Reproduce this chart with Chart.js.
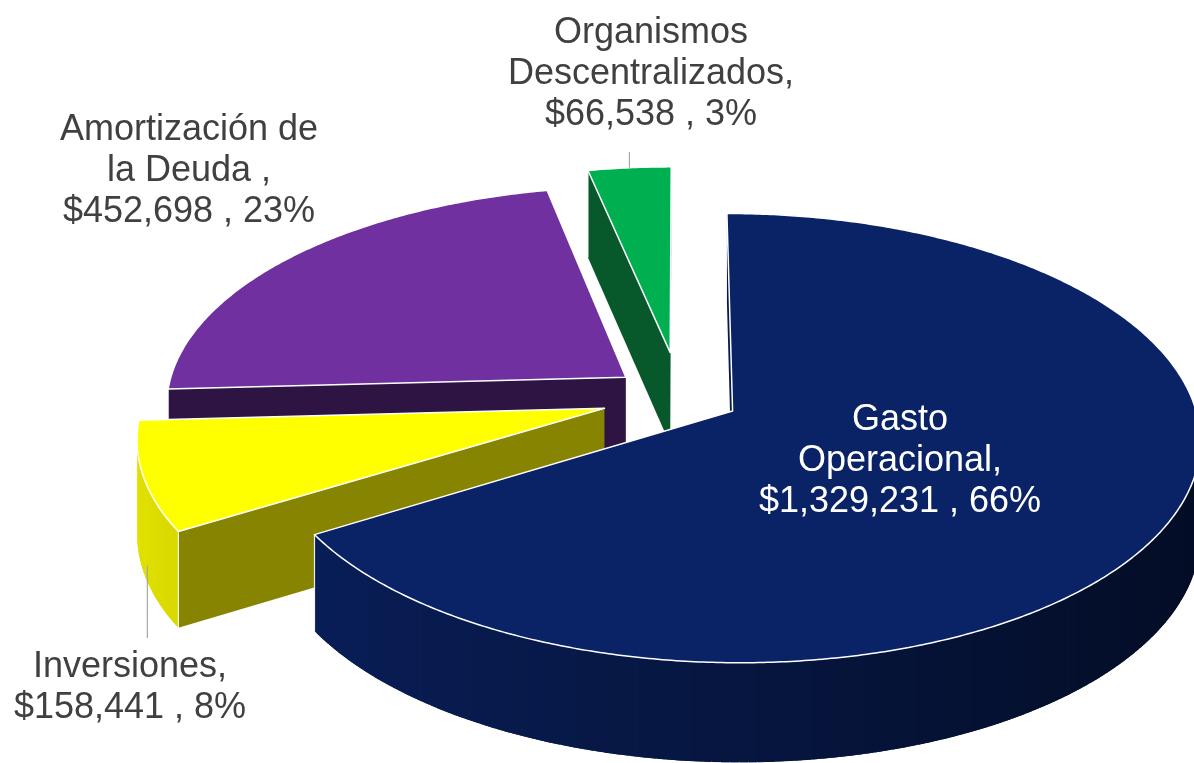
<!DOCTYPE html>
<html>
<head>
<meta charset="utf-8">
<script src="https://cdn.jsdelivr.net/npm/chart.js@4.4.1/dist/chart.umd.min.js"></script>
<style>
html,body{margin:0;padding:0;background:#ffffff;overflow:hidden}
canvas{display:block}
</style>
</head>
<body>
<canvas id="c" width="1194" height="763"></canvas>
<script>
// ---- data ----
const categories = ['Gasto Operacional', 'Inversiones', 'Amortización de la Deuda', 'Organismos Descentralizados'];
const values = [1329231, 158441, 452698, 66538];
const valueLabels = ['$1,329,231', '$158,441', '$452,698', '$66,538'];
const nameLines = [
  ['Gasto', 'Operacional,'],
  ['Inversiones,'],
  ['Amortización de', 'la Deuda ,'],
  ['Organismos', 'Descentralizados,']
];

// ---- style ----
const topColors = ['#0a2366', '#ffff00', '#7030a0', '#00b050'];
const cutColors = ['#061a4c', '#868400', '#2d1442', '#07582a'];
const explode = [0.13, 0.171, 0.150, 0.21];   // radial explosion, fraction of radius
// perspective view: centre, horizontal / vertical scale, perspective strength, wall height
const P3 = {cx: 680, cy: 397, M: 460, K: 218, q: 0.12, H: 93};
const labelStyle = [
  {x: 900, y: 430, color: '#ffffff'},
  {x: 130, y: 677, color: '#404040'},
  {x: 189, y: 140, color: '#404040'},
  {x: 651, y: 43,  color: '#404040'}
];
const LINE_H = 41;
const FONT = '36px "Liberation Sans", Arial, Helvetica, sans-serif';

const total = values.reduce((a, b) => a + b, 0);

function proj(x, y, z) {
  const w = 1 - P3.q * y;
  return {x: P3.cx + P3.M * x / w, y: P3.cy + P3.K * y / w + z * P3.H * Math.pow(w, -0.5)};
}
function geometry(chart) {
  return chart.getDatasetMeta(0).data.map((arc, i) => {
    const mid = (arc.startAngle + arc.endAngle) / 2;
    return {arc, i, a0: arc.startAngle, a1: arc.endAngle, mid,
            ex: explode[i] * Math.cos(mid), ey: explode[i] * Math.sin(mid)};
  });
}
function rim(g, a) { return [g.ex + Math.cos(a), g.ey + Math.sin(a)]; }
function outline(g) {
  const pts = [[g.ex, g.ey]];
  const n = Math.max(2, Math.ceil((g.a1 - g.a0) / (Math.PI / 360)));
  for (let k = 0; k <= n; k++) pts.push(rim(g, g.a0 + (g.a1 - g.a0) * k / n));
  return pts;
}
function shade(hex, f) {
  const n = parseInt(hex.slice(1), 16);
  const r = Math.round(((n >> 16) & 255) * f), gg = Math.round(((n >> 8) & 255) * f), b = Math.round((n & 255) * f);
  return 'rgb(' + r + ',' + gg + ',' + b + ')';
}

function drawTop(ctx, g, W) {
  const pts = outline(g).map(p => proj(p[0], p[1], 0));
  const ys = pts.map(p => p.y);
  const minY = Math.floor(Math.min(...ys)) - 2;
  const maxY = Math.ceil(Math.max(...ys)) + 2;
  const B = 2;
  const R = g.arc.outerRadius;
  for (let Y0 = minY; Y0 < maxY; Y0 += B) {
    const Yc = Y0 + B / 2;
    const u = Yc - P3.cy;
    const yc = u / (P3.K + P3.q * u);
    const wc = 1 - P3.q * yc;
    const sx = P3.M / wc, sy = P3.K / (wc * wc);
    ctx.save();
    ctx.beginPath();
    ctx.rect(0, Y0, W, B);
    ctx.clip();
    ctx.translate(P3.cx + sx * g.ex, Yc + sy * (g.ey - yc));
    ctx.scale(sx / R, sy / R);
    ctx.translate(-g.arc.x, -g.arc.y);
    g.arc.draw(ctx);
    ctx.restore();
  }
  // white rim outline
  ctx.save();
  ctx.beginPath();
  pts.forEach((p, k) => k ? ctx.lineTo(p.x, p.y) : ctx.moveTo(p.x, p.y));
  ctx.closePath();
  ctx.strokeStyle = '#ffffff';
  ctx.lineWidth = 1.5;
  ctx.lineJoin = 'round';
  ctx.stroke();
  ctx.restore();
}

const pie3d = {
  id: 'pie3d',
  beforeDatasetsDraw(chart) {
    const ctx = chart.ctx;
    const W = chart.width;
    const geo = geometry(chart);
    const cam = [0, 1 / P3.q];
    const faces = [];
    const addFace = (p1, p2, q1, q2, n, color, edges) => {
      const c = [(p1[0] + p2[0]) / 2, (p1[1] + p2[1]) / 2];
      const dx = cam[0] - c[0], dy = cam[1] - c[1];
      const dist = Math.hypot(dx, dy);
      const vis = (n[0] * dx + n[1] * dy) / dist;
      if (vis <= 0) return;
      faces.push({p1: q1 || p1, p2: q2 || p2, e1: p1, e2: p2, color, edges: vis > 0.05 ? edges : [false, false], dist});
    };
    geo.forEach(g => {
      const i = g.i;
      const v = [g.ex, g.ey];
      addFace(v, rim(g, g.a0), null, null, [Math.sin(g.a0), -Math.cos(g.a0)], cutColors[i], [false, true]);
      addFace(v, rim(g, g.a1), null, null, [-Math.sin(g.a1), Math.cos(g.a1)], cutColors[i], [false, true]);
      const n = Math.max(2, Math.ceil((g.a1 - g.a0) / (Math.PI / 180)));
      const step = (g.a1 - g.a0) / n;
      for (let k = 0; k < n; k++) {
        const a = g.a0 + step * k;
        const b = a + step;
        const am = (a + b) / 2;
        const f = 0.62 - 0.27 * Math.cos(am);
        // slightly overlapping quads avoid seams between wall strips
        const a2 = k === 0 ? a : a - step * 0.45;
        const b2 = k === n - 1 ? b : b + step * 0.45;
        addFace(rim(g, a), rim(g, b), rim(g, a2), rim(g, b2), [Math.cos(am), Math.sin(am)],
                shade(topColors[i], f), [k === 0, k === n - 1]);
      }
    });
    faces.sort((A, B) => B.dist - A.dist);
    faces.forEach(F => {
      const t1 = proj(F.p1[0], F.p1[1], 0), t2 = proj(F.p2[0], F.p2[1], 0);
      const b1 = proj(F.p1[0], F.p1[1], 1), b2 = proj(F.p2[0], F.p2[1], 1);
      ctx.beginPath();
      ctx.moveTo(t1.x, t1.y); ctx.lineTo(t2.x, t2.y); ctx.lineTo(b2.x, b2.y); ctx.lineTo(b1.x, b1.y);
      ctx.closePath();
      ctx.fillStyle = F.color;
      ctx.fill();
      ctx.strokeStyle = 'rgba(255,255,255,0.9)';
      ctx.lineWidth = 1.2;
      [F.e1, F.e2].forEach((p, k) => {
        if (!F.edges[k]) return;
        const t = proj(p[0], p[1], 0), b = proj(p[0], p[1], 1);
        ctx.beginPath();
        ctx.moveTo(t.x, t.y);
        ctx.lineTo(b.x, b.y);
        ctx.stroke();
      });
    });
    // top faces drawn by the library's arc elements
    geo.forEach(g => drawTop(ctx, g, W));
    return false;
  },
  afterDraw(chart) {
    const ctx = chart.ctx;
    const geo = geometry(chart);
    // leader lines
    ctx.save();
    ctx.strokeStyle = '#a6a6a6';
    ctx.lineWidth = 1.2;
    const o = rim(geo[3], geo[3].mid);
    const org = proj(o[0], o[1], 0);
    ctx.beginPath();
    ctx.moveTo(org.x, 152);
    ctx.lineTo(org.x, Math.max(org.y, 158));
    ctx.stroke();
    const iv = rim(geo[1], geo[1].mid);
    const inv = proj(iv[0], iv[1], 1);
    ctx.beginPath();
    ctx.moveTo(inv.x + 4, inv.y - 6);
    ctx.lineTo(inv.x + 4, 638);
    ctx.stroke();
    ctx.restore();

    // data labels
    ctx.save();
    ctx.font = FONT;
    ctx.textAlign = 'center';
    ctx.textBaseline = 'alphabetic';
    values.forEach((v, i) => {
      const pct = Math.round(v / total * 100) + '%';
      const lines = nameLines[i].concat([valueLabels[i] + ' , ' + pct]);
      ctx.fillStyle = labelStyle[i].color;
      lines.forEach((t, j) => ctx.fillText(t, labelStyle[i].x, labelStyle[i].y + j * LINE_H));
    });
    ctx.restore();
  }
};

new Chart(document.getElementById('c'), {
  type: 'pie',
  data: {
    labels: categories,
    datasets: [{data: values, backgroundColor: topColors, borderWidth: 0}]
  },
  options: {
    responsive: false,
    animation: false,
    events: [],
    layout: {padding: 0},
    plugins: {legend: {display: false}, tooltip: {enabled: false}}
  },
  plugins: [pie3d]
});
</script>
</body>
</html>
